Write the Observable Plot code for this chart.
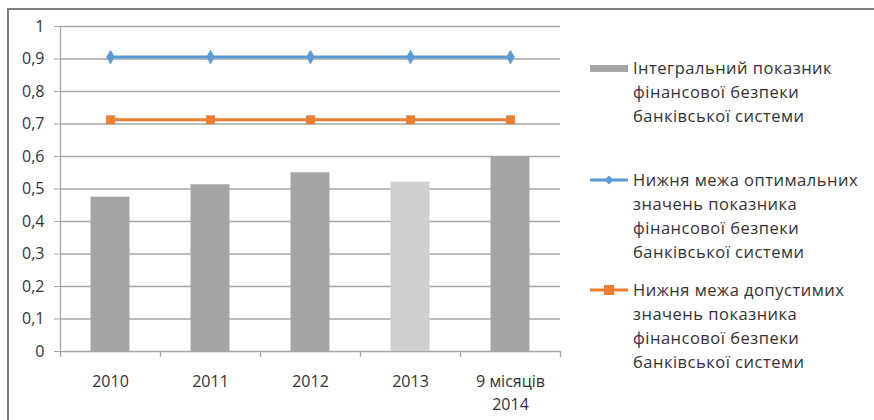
<!DOCTYPE html>
<html><head><meta charset="utf-8">
<script src="https://cdn.jsdelivr.net/npm/d3@7"></script>
<script src="https://cdn.jsdelivr.net/npm/@observablehq/plot@0.6"></script>
<style>
body{margin:0;background:#fff;font-family:"Open Sans",sans-serif;}
#wrap{position:relative;width:874px;height:420px;overflow:hidden;}
#frame{position:absolute;left:7px;top:8px;width:880px;height:420px;border-top:2px solid #7f7f7f;border-left:2px solid #7f7f7f;box-sizing:border-box;}
#chart{position:absolute;left:0;top:0;}
#legend{position:absolute;left:0;top:0;}
</style></head><body>
<div id="wrap"><div id="frame"></div><div id="chart"></div><svg id="legend" width="874" height="420"></svg></div>
<script>
const categories = ["2010","2011","2012","2013","9 місяців\n2014"];
const integral = [0.475, 0.513, 0.55, 0.521, 0.60];
const optimalLower = [0.906, 0.906, 0.906, 0.906, 0.906];
const admissibleLower = [0.713, 0.713, 0.713, 0.713, 0.713];
const barColors = ["#a5a5a5","#a5a5a5","#a5a5a5","#d0cece","#a5a5a5"];
const yTicks = [0,0.1,0.2,0.3,0.4,0.5,0.6,0.7,0.8,0.9,1];
const seriesNames = [
  ["Інтегральний показник","фінансової безпеки","банківської системи"],
  ["Нижня межа оптимальних","значень показника","фінансової безпеки","банківської системи"],
  ["Нижня межа допустимих","значень показника","фінансової безпеки","банківської системи"]
];

const bars = categories.map((c,i)=>({c, v: integral[i], color: barColors[i]}));
const opt = categories.map((c,i)=>({c, v: optimalLower[i]}));
const adm = categories.map((c,i)=>({c, v: admissibleLower[i]}));
const grid = "#a6a6a6";
const txt = "#333333";

const plot = Plot.plot({
  width: 874, height: 420,
  marginLeft: 60, marginRight: 314, marginTop: 26, marginBottom: 69,
  style: {fontFamily: "Open Sans, sans-serif", fontSize: "16px", color: txt, background: "transparent"},
  x: {domain: categories, padding: 0, label: null},
  y: {domain: [0,1], label: null},
  marks: [
    Plot.ruleY(yTicks, {y: d=>d, stroke: grid, strokeWidth: 1.3, strokeOpacity: 1}),
    Plot.axisY({ticks: yTicks, tickSize: 6, tickPadding: 10, stroke: grid, strokeOpacity: 1, fill: txt,
      tickFormat: d => String(d).replace(".", ","), fontSize: 16, label: null}),
    Plot.barY(bars, {x: "c", y: "v", fill: "color", insetLeft: 30.5, insetRight: 30.5}),
    Plot.ruleX([0], {y1: 0, y2: 1, x: () => categories[0], dx: -50, stroke: grid, strokeWidth: 1.3}),
    Plot.axisX({ticks: categories, text: null, tickSize: 6, dx: -50, stroke: grid, strokeOpacity: 1, strokeWidth: 1.3}),
    Plot.axisX({ticks: [categories[4]], text: null, tickSize: 6, dx: 50, stroke: grid, strokeOpacity: 1, strokeWidth: 1.3}),
    Plot.axisX({ticks: categories, tickSize: 0, tickPadding: 19, lineAnchor: "top", lineHeight: 1.45, fill: txt, fontSize: 16, label: null}),
    Plot.line(opt, {x: "c", y: "v", stroke: "#5b9bd5", strokeWidth: 3}),
    Plot.dot(opt, {x: "c", y: "v", symbol: "diamond", r: 4.5, fill: "#5b9bd5"}),
    Plot.line(adm, {x: "c", y: "v", stroke: "#ed7d31", strokeWidth: 3}),
    Plot.dot(adm, {x: "c", y: "v", symbol: "square", r: 5, fill: "#ed7d31"})
  ]
});
document.getElementById("chart").appendChild(plot);

// legend
const lg = d3.select("#legend");
const starts = [68, 180, 290];
const colors = ["#a5a5a5","#5b9bd5","#ed7d31"];
seriesNames.forEach((lines, k) => {
  const y0 = starts[k];
  if (k === 0) {
    lg.append("rect").attr("x", 590).attr("y", y0 - 3).attr("width", 38).attr("height", 7).attr("fill", colors[0]);
  } else {
    lg.append("line").attr("x1", 590).attr("x2", 628).attr("y1", y0).attr("y2", y0).attr("stroke", colors[k]).attr("stroke-width", 3);
    if (k === 1) lg.append("path").attr("d", `M609,${y0-4.5}L613.5,${y0}L609,${y0+4.5}L604.5,${y0}Z`).attr("fill", colors[1]);
    else lg.append("rect").attr("x", 604).attr("y", y0-5).attr("width", 10).attr("height", 10).attr("fill", colors[2]);
  }
  lines.forEach((t, j) => {
    lg.append("text").attr("x", 633).attr("y", y0 + j*24).attr("dy", "0.35em")
      .attr("font-family", "Open Sans, sans-serif").attr("font-size", 16.5).attr("letter-spacing", 0.5).attr("fill", txt).text(t);
  });
});
</script>
</body></html>
